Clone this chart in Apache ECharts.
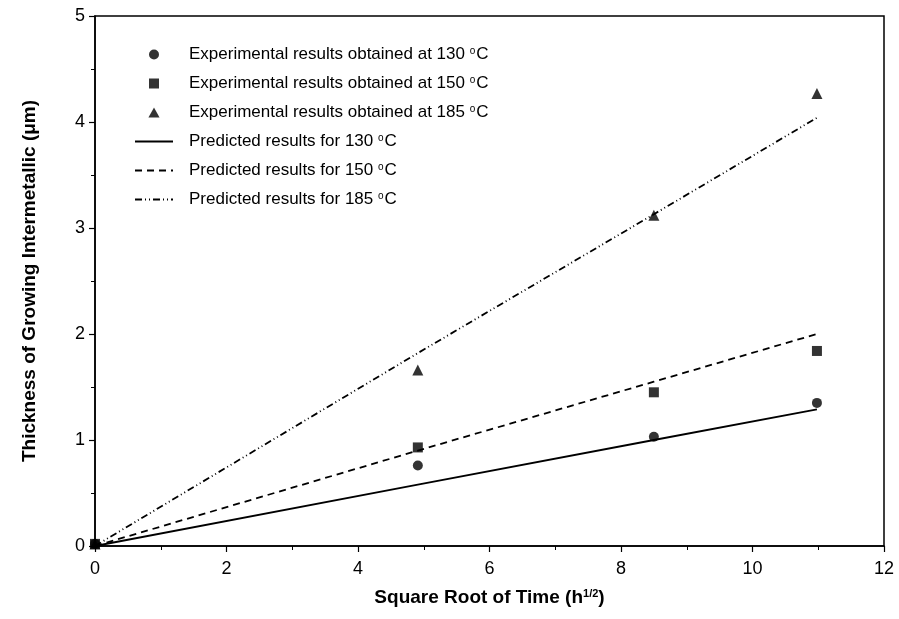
<!DOCTYPE html>
<html>
<head>
<meta charset="utf-8">
<script src="https://cdn.jsdelivr.net/npm/echarts@6/dist/echarts.min.js"></script>
<style>
  html, body { margin: 0; padding: 0; background: #fff; }
  #chart { width: 899px; height: 619px; }
</style>
</head>
<body>
<div id="chart"></div>
<script>
// square root of time (h^1/2)
const timeRoots = [0, 4.91, 8.5, 10.98]

// measured thickness (um)
const exp130 = [0.02, 0.76, 1.03, 1.35]
const exp150 = [0.02, 0.93, 1.45, 1.84]
const exp185 = [0.02, 1.66, 3.12, 4.27]

// model predictions (um)
const pred130 = [0, 0.58, 1.0, 1.29]
const pred150 = [0, 0.9, 1.55, 2.0]
const pred185 = [0, 1.82, 3.13, 4.04]

const xTicks = [0, 2, 4, 6, 8, 10, 12]
const yTicks = [0, 1, 2, 3, 4, 5]

const names = [
  'Experimental results obtained at 130',
  'Experimental results obtained at 150',
  'Experimental results obtained at 185',
  'Predicted results for 130',
  'Predicted results for 150',
  'Predicted results for 185'
]

const pairs = (ys) => timeRoots.map((x, i) => [x, ys[i]])

const scatter = (name, ys, symbol, size) => ({
  name,
  type: 'scatter',
  symbol,
  symbolSize: size,
  itemStyle: { color: '#000' },
  data: pairs(ys),
  z: 5
})

const line = (name, ys, type) => ({
  name,
  type: 'line',
  symbol: 'none',
  lineStyle: { color: '#000', width: 1.8, type },
  itemStyle: { color: '#000' },
  data: pairs(ys)
})

// legend icons: small marks for the scatter rows, bare line for the model rows
const squareIcon = 'path://M0,0L10,0L10,10L0,10Z'
const triIcon = 'path://M5,0L10,9L0,9Z'
const legendData = [
  { name: names[0], icon: 'circle' },
  { name: names[1], icon: squareIcon },
  { name: names[2], icon: triIcon },
  { name: names[3], itemStyle: { opacity: 0 } },
  { name: names[4], itemStyle: { opacity: 0 } },
  { name: names[5], itemStyle: { opacity: 0 } }
]

const chart = echarts.init(document.getElementById('chart'))

const option = {
  animation: false,
  backgroundColor: '#fff',
  textStyle: { fontFamily: 'Liberation Sans, Arial, sans-serif', color: '#000' },
  grid: {
    left: 95, right: 15, top: 16, bottom: 73,
    show: true, borderColor: '#000', borderWidth: 1.5
  },
  legend: {
    orient: 'vertical',
    left: 129,
    top: 41,
    itemWidth: 38,
    itemHeight: 10,
    itemGap: 12,
    formatter: (n) => '{a|' + n + ' }{s|o}{a|C}',
    textStyle: {
      padding: [0, 0, 0, 11],
      rich: {
        a: { fontSize: 17, color: '#000', fontFamily: 'Liberation Sans' },
        s: { fontSize: 10, color: '#000', fontFamily: 'Liberation Sans', verticalAlign: 'top', padding: [0, 1, 6, 0] }
      }
    },
    data: legendData
  },
  xAxis: {
    type: 'value',
    min: 0,
    max: 12,
    interval: 2,
    name: '{b|Square Root of Time (h}{sup|1/2}{b|)}',
    nameLocation: 'middle',
    nameGap: 42,
    nameTextStyle: {
      rich: {
        b: { fontSize: 19, fontWeight: 'bold', color: '#000', fontFamily: 'Liberation Sans' },
        sup: { fontSize: 11, fontWeight: 'bold', color: '#000', fontFamily: 'Liberation Sans', verticalAlign: 'top', padding: [0, 0, 8, 0] }
      }
    },
    axisLine: { lineStyle: { color: '#000', width: 1.5 } },
    axisTick: { show: true, inside: false, length: 6, lineStyle: { color: '#000', width: 1.2 } },
    minorTick: { show: true, splitNumber: 2, length: 4, lineStyle: { color: '#000', width: 1 } },
    splitLine: { show: false },
    axisLabel: {
      fontSize: 18, color: '#000', margin: 14,
      formatter: (v) => xTicks.includes(v) ? String(v) : ''
    }
  },
  yAxis: {
    type: 'value',
    min: 0,
    max: 5,
    interval: 1,
    name: 'Thickness of Growing Intermetallic (\u03bcm)',
    nameLocation: 'middle',
    nameGap: 56,
    nameTextStyle: { fontSize: 19, fontWeight: 'bold', color: '#000', fontFamily: 'Liberation Sans' },
    axisLine: { show: true, lineStyle: { color: '#000', width: 1.5 } },
    axisTick: { show: true, inside: false, length: 6, lineStyle: { color: '#000', width: 1.2 } },
    minorTick: { show: true, splitNumber: 2, length: 4, lineStyle: { color: '#000', width: 1 } },
    splitLine: { show: false },
    axisLabel: {
      fontSize: 18, color: '#000', margin: 10,
      formatter: (v) => yTicks.includes(v) ? String(v) : ''
    }
  },
  series: [
    scatter(names[0], exp130, 'circle', 10),
    scatter(names[1], exp150, 'rect', 10),
    scatter(names[2], exp185, 'triangle', 11),
    line(names[3], pred130, 'solid'),
    line(names[4], pred150, [7, 5]),
    line(names[5], pred185, [7, 3, 1, 3, 1, 3])
  ]
}

chart.setOption(option)
</script>
</body>
</html>
